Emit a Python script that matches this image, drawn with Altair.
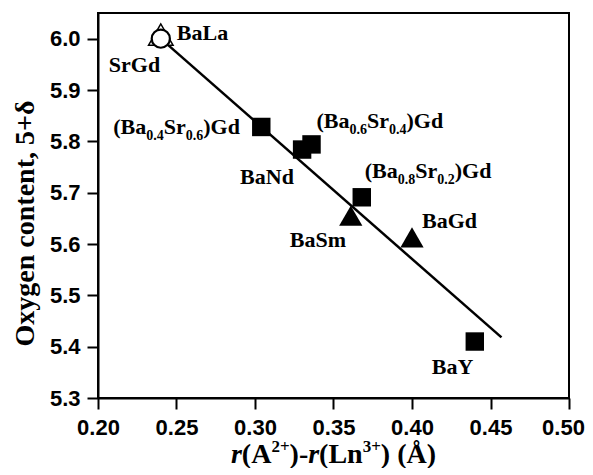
import altair as alt
import pandas as pd

# ---------------- data ----------------
names = ["BaLa", "SrGd", "(Ba0.4Sr0.6)Gd", "BaNd", "(Ba0.6Sr0.4)Gd",
         "(Ba0.8Sr0.2)Gd", "BaSm", "BaGd", "BaY"]
x_vals = [0.240, 0.240, 0.304, 0.330, 0.336, 0.368, 0.361, 0.400, 0.440]
y_vals = [6.008, 6.000, 5.828, 5.784, 5.794, 5.691, 5.655, 5.613, 5.410]
kinds = ["open_tri", "open_circ", "square", "square", "square", "square",
         "triangle", "triangle", "square"]

fit_x = [0.240, 0.457]
fit_y = [6.000, 5.418]

x_ticks = [0.20, 0.25, 0.30, 0.35, 0.40, 0.45, 0.50]
y_ticks = [5.3, 5.4, 5.5, 5.6, 5.7, 5.8, 5.9, 6.0]

# label pieces: (text, is_subscript)
label_pieces = {
    "BaLa": [("BaLa", False)],
    "SrGd": [("SrGd", False)],
    "(Ba0.4Sr0.6)Gd": [("(Ba", False), ("0.4", True), ("Sr", False), ("0.6", True), (")Gd", False)],
    "BaNd": [("BaNd", False)],
    "(Ba0.6Sr0.4)Gd": [("(Ba", False), ("0.6", True), ("Sr", False), ("0.4", True), (")Gd", False)],
    "(Ba0.8Sr0.2)Gd": [("(Ba", False), ("0.8", True), ("Sr", False), ("0.2", True), (")Gd", False)],
    "BaSm": [("BaSm", False)],
    "BaGd": [("BaGd", False)],
    "BaY": [("BaY", False)],
}
# label offsets (style): left edge dx, baseline dy from the point
label_off = {
    "BaLa": (16, 5), "SrGd": (-52, 33), "(Ba0.4Sr0.6)Gd": (-148, 7),
    "BaNd": (-62, 34), "(Ba0.6Sr0.4)Gd": (5, -16), "(Ba0.8Sr0.2)Gd": (3, -19),
    "BaSm": (-61, 31), "BaGd": (10, -9), "BaY": (-43, 32),
}

SERIF = "Liberation Serif"
SANS = "Liberation Sans"
W, H = 471, 385

# approximate Times-Bold advance widths (per 1000 em)
TW = {'(': 333, ')': 333, 'B': 667, 'a': 500, 'S': 556, 'r': 444, 'G': 778,
      'd': 556, '.': 250, 'L': 667, 'n': 556, 'A': 722, '-': 333, '+': 570,
      ' ': 250, 'Å': 722, 'N': 722, 'Y': 722, 'm': 833}


def tw(s, size, italic=False):
    tot = 0
    for ch in s:
        if ch.isdigit():
            tot += 500
        elif italic and ch == 'r':
            tot += 389
        else:
            tot += TW.get(ch, 500)
    return tot * size / 1000.0


df = pd.DataFrame({"name": names, "x": x_vals, "y": y_vals, "kind": kinds})
fit_df = pd.DataFrame({"x": fit_x, "y": fit_y})

xs = alt.Scale(domain=[0.20, 0.50], nice=False, zero=False)
ys = alt.Scale(domain=[5.3, 6.05], nice=False, zero=False)

X = alt.X("x:Q", scale=xs, axis=alt.Axis(
    values=x_ticks, format=".2f", title=None, labelPadding=8, labelFlush=False,
    labelOffset={"condition": {"test": "datum.value >= 0.499", "value": -6}, "value": 0}))
Y = alt.Y("y:Q", scale=ys, axis=alt.Axis(values=y_ticks, format=".1f",
                                         title="Oxygen content, 5+δ",
                                         titleFont=SERIF, titleFontSize=28,
                                         titleFontWeight="bold", titleColor="black",
                                         titleAngle=270, titleX=-73, titleY=210,
                                         titleAlign="center", titleBaseline="middle",
                                         labelPadding=7, labelFlush=False))

line = alt.Chart(fit_df).mark_line(color="black", strokeWidth=2.5).encode(x=X, y=Y)

open_tri = alt.Chart(df[df.kind == "open_tri"]).mark_point(
    shape="triangle-up", size=600, filled=True, fill="white", stroke="black",
    strokeWidth=1.5, opacity=1).encode(x=X, y=Y)
open_circ = alt.Chart(df[df.kind == "open_circ"]).mark_point(
    shape="circle", size=330, filled=True, fill="white", stroke="black",
    strokeWidth=2.2, opacity=1).encode(x=X, y=Y)
squares = alt.Chart(df[df.kind == "square"]).mark_point(
    shape="square", size=340, filled=True, color="black", opacity=1).encode(x=X, y=Y)
tris = alt.Chart(df[df.kind == "triangle"]).mark_point(
    shape="triangle-up", size=540, filled=True, color="black", opacity=1).encode(x=X, y=Y)

layers = [line, open_tri, squares, tris, open_circ]

MAIN, SUB = 22, 14
for nm in names:
    row = df[df.name == nm]
    ldx, ldy = label_off[nm]
    cur = 0.0
    for txt, sub in label_pieces[nm]:
        fs = SUB if sub else MAIN
        layers.append(alt.Chart(row).mark_text(
            text=txt, align="left", baseline="alphabetic", dx=ldx + cur,
            dy=ldy + (6 if sub else 0), font=SERIF, fontSize=fs,
            fontWeight="bold", color="black").encode(x=X, y=Y))
        cur += tw(txt, fs)

# x-axis title with italic r and superscripts
title_pieces = [("r", "i"), ("(A", "n"), ("2+", "s"), (")-", "n"), ("r", "i"),
                ("(Ln", "n"), ("3+", "s"), (") (Å)", "n")]
TM, TS = 28, 17
widths = [tw(t, TS if k == "s" else TM, italic=(k == "i")) for t, k in title_pieces]
start = W / 2 - sum(widths) / 2
base_y = 450
dummy = pd.DataFrame({"a": [0]})
cur = start
for (t, k), w in zip(title_pieces, widths):
    layers.append(alt.Chart(dummy).mark_text(
        text=t, align="left", baseline="alphabetic", font=SERIF,
        fontSize=TS if k == "s" else TM, fontWeight="bold",
        fontStyle="italic" if k == "i" else "normal", color="black").encode(
        x=alt.value(cur), y=alt.value(base_y - 11 if k == "s" else base_y)))
    cur += w

chart = alt.layer(*layers).properties(
    width=W, height=H,
    autosize=alt.AutoSizeParams(type="none"),
    padding={"left": 90, "top": 5, "right": 16, "bottom": 70},
).configure_view(stroke="black", strokeWidth=2).configure_axis(
    domainColor="black", domainWidth=2, tickColor="black", tickWidth=2, tickSize=11,
    labelFont=SANS, labelFontSize=22, labelFontWeight="bold", labelColor="black",
    grid=False,
)

chart.save("out.html", embed_options={"renderer": "svg", "actions": False})
